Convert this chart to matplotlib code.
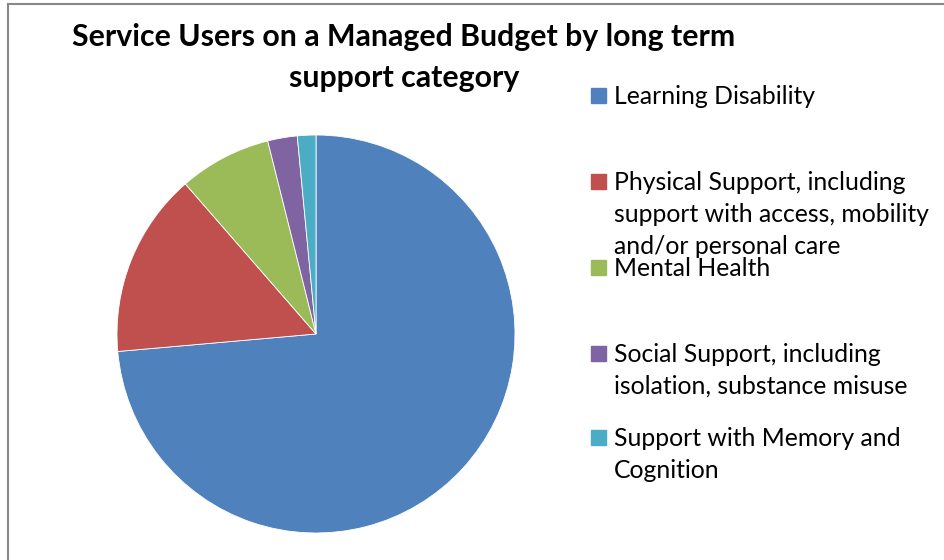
import matplotlib
matplotlib.use("Agg")
import matplotlib.pyplot as plt
from matplotlib.patches import Rectangle
from matplotlib.lines import Line2D

plt.rcParams['font.family'] = ['Lato', 'DejaVu Sans']

W, H = 944, 560

title = "Service Users on a Managed Budget by long term\nsupport category"
categories = [
    "Learning Disability",
    "Physical Support, including\nsupport with access, mobility\nand/or personal care",
    "Mental Health",
    "Social Support, including\nisolation, substance misuse",
    "Support with Memory and\nCognition",
]
shares = [73.6, 15.0, 7.5, 2.4, 1.5]
colors = ["#4F81BD", "#C0504D", "#9BBB59", "#8064A2", "#4BACC6"]

# legend row positions (pixels from top), first line of each entry
legend_y = [96, 182, 268, 354, 438]


def fx(px):
    return px / W


def fy(py):
    return 1 - py / H


fig = plt.figure(figsize=(W / 100, H / 100), dpi=100)

# chart frame
fig.add_artist(Line2D([fx(8), fx(8)], [fy(4), 0], color="#888888", lw=1.5))
fig.add_artist(Line2D([fx(8), 1], [fy(4), fy(4)], color="#888888", lw=1.5))

cx, cy, r = 316, 334, 199
ax = fig.add_axes([fx(cx - r), fy(cy + r), 2 * r / W, 2 * r / H])
ax.pie(shares, colors=colors, startangle=90, counterclock=False,
       wedgeprops=dict(linewidth=0.6, edgecolor="white"))
ax.set_xlim(-1, 1)
ax.set_ylim(-1, 1)
ax.set_aspect("equal")
ax.axis("off")

for i, line in enumerate(title.split("\n")):
    fig.text(fx(404), fy(37 + i * 41), line, ha="center", va="center",
             fontsize=21.8, fontweight="bold")

for label, color, y0 in zip(categories, colors, legend_y):
    fig.add_artist(Rectangle((fx(591), fy(y0 + 7)), 15 / W, 15 / H,
                             transform=fig.transFigure, color=color))
    for i, line in enumerate(label.split("\n")):
        fig.text(fx(614), fy(y0 + i * 32), line, ha="left", va="center",
                 fontsize=17.8)

fig.savefig("out.png", dpi=100)
